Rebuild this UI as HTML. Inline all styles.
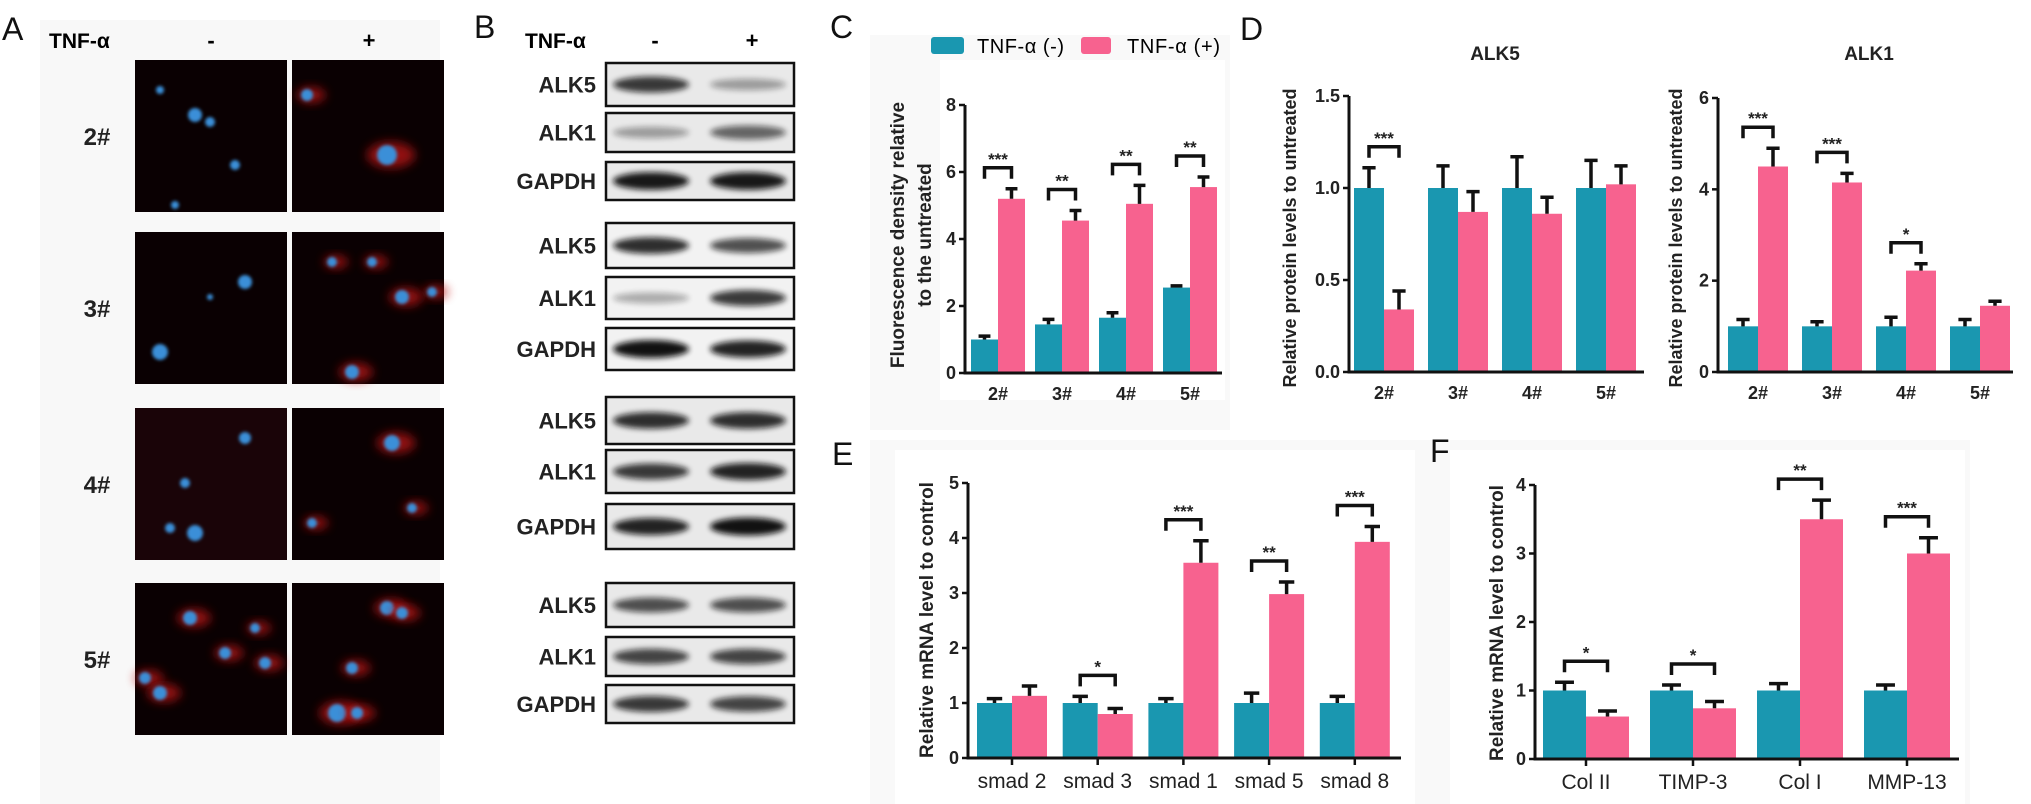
<!DOCTYPE html>
<html><head><meta charset="utf-8">
<style>
html,body{margin:0;padding:0;background:#fff;}
svg{display:block;font-family:"Liberation Sans",sans-serif;}
</style></head>
<body>
<svg id="fig" width="2031" height="804" viewBox="0 0 2031 804" xmlns="http://www.w3.org/2000/svg">
<defs>
<filter id="blur3" x="-50%" y="-50%" width="200%" height="200%"><feGaussianBlur stdDeviation="3"/></filter>
<filter id="blur5" x="-50%" y="-50%" width="200%" height="200%"><feGaussianBlur stdDeviation="5"/></filter>
<filter id="blur2" x="-50%" y="-50%" width="200%" height="200%"><feGaussianBlur stdDeviation="1.5"/></filter>
</defs>
<rect x="0" y="0" width="2031" height="804" fill="#ffffff"/>
<rect x="40" y="20" width="400" height="790" fill="#f8f8f8"/>
<rect x="870" y="35" width="360" height="395" fill="#f9f9f9"/>
<rect x="870" y="440" width="1100" height="370" fill="#f9f9f9"/>
<rect x="895" y="450" width="520" height="360" fill="#ffffff"/>
<rect x="1450" y="450" width="515" height="360" fill="#ffffff"/>
<rect x="940" y="60" width="285" height="340" fill="#ffffff"/>

<!-- Panel labels -->
<g font-size="32" fill="#111">
<text x="2" y="40">A</text>
<text x="474" y="38">B</text>
<text x="830" y="38">C</text>
<text x="1240" y="40">D</text>
<text x="832" y="465">E</text>
<text x="1430" y="462">F</text>
</g>

<!-- Panel A -->
<g font-weight="bold">
<text x="49" y="48" font-size="21">TNF-α</text>
<text x="211" y="48" font-size="22" text-anchor="middle">-</text>
<text x="369" y="48" font-size="22" text-anchor="middle">+</text>
<g id="micro"></g>
</g>

<!-- Panel B -->
<g font-weight="bold">
<text x="525" y="48" font-size="21">TNF-α</text>
<text x="655" y="48" font-size="22" text-anchor="middle">-</text>
<text x="752" y="48" font-size="22" text-anchor="middle">+</text>
<g id="blots"></g>
</g>

<!-- Legend C -->
<g font-size="20">
<rect x="931" y="37" width="33" height="17" rx="3" fill="#1a97b0"/>
<text x="977" y="53" textLength="87">TNF-α (-)</text>
<rect x="1081" y="37" width="30" height="17" rx="3" fill="#f7628f"/>
<text x="1127" y="53" textLength="93">TNF-α (+)</text>
</g>

<g id="charts"></g>
</svg>

<script>
// ===== Chart data =====
const cCats = ['2#','3#','4#','5#'];
const cNeg = [1.0, 1.45, 1.65, 2.55];
const cNegErr = [0.1, 0.15, 0.15, 0.05];
const cPos = [5.2, 4.55, 5.05, 5.55];
const cPosErr = [0.3, 0.3, 0.55, 0.3];
const cSig = ['***','**','**','**'];
const cTicks = [0, 2, 4, 6, 8];

const d5Cats = ['2#','3#','4#','5#'];
const d5Neg = [1.0, 1.0, 1.0, 1.0];
const d5NegErr = [0.11, 0.12, 0.17, 0.15];
const d5Pos = [0.34, 0.87, 0.86, 1.02];
const d5PosErr = [0.1, 0.11, 0.09, 0.1];
const d5Sig = ['***','','',''];
const d5Ticks = [0, 0.5, 1.0, 1.5];

const d1Cats = ['2#','3#','4#','5#'];
const d1Neg = [1.0, 1.0, 1.0, 1.0];
const d1NegErr = [0.15, 0.1, 0.2, 0.15];
const d1Pos = [4.5, 4.15, 2.22, 1.45];
const d1PosErr = [0.4, 0.2, 0.15, 0.1];
const d1Sig = ['***','***','*',''];
const d1Ticks = [0, 2, 4, 6];

const eCats = ['smad 2','smad 3','smad 1','smad 5','smad 8'];
const eNeg = [1.0, 1.0, 1.0, 1.0, 1.0];
const eNegErr = [0.08, 0.12, 0.08, 0.18, 0.12];
const ePos = [1.13, 0.8, 3.55, 2.98, 3.93];
const ePosErr = [0.18, 0.1, 0.4, 0.22, 0.28];
const eSig = ['','*','***','**','***'];
const eTicks = [0, 1, 2, 3, 4, 5];

const fCats = ['Col II','TIMP-3','Col I','MMP-13'];
const fNeg = [1.0, 1.0, 1.0, 1.0];
const fNegErr = [0.12, 0.08, 0.1, 0.08];
const fPos = [0.62, 0.74, 3.5, 3.0];
const fPosErr = [0.08, 0.1, 0.28, 0.23];
const fSig = ['*','*','**','***'];
const fTicks = [0, 1, 2, 3, 4];

const NS = 'http://www.w3.org/2000/svg';
const TEAL = '#1a97b0', PINK = '#f7628f';
function mk(parent, tag, attrs, txt) {
  const e = document.createElementNS(NS, tag);
  for (const k in attrs) e.setAttribute(k, attrs[k]);
  if (txt !== undefined) e.textContent = txt;
  parent.appendChild(e);
  return e;
}

function drawChart(o) {
  const root = document.getElementById('charts');
  const g = mk(root, 'g', {});
  
  
  const maxV = o.ticks[o.ticks.length - 1];
  const yS = v => o.y0 - (o.y0 - o.yMax) * v / maxV;
  const xC = i => o.c0 + o.step * i;
  // bars
  o.cats.forEach((c, i) => {
    const cx = xC(i);
    const series = [[o.neg[i], o.negErr[i], cx - o.bw, TEAL, 'untreated'], [o.pos[i], o.posErr[i], cx, PINK, 'treated']];
    series.forEach(s => {
      const top = yS(s[0]);
      const r = mk(g, 'rect', {x: s[2], y: top, width: o.bw, height: o.y0 - top, fill: s[3]});
      
      
      const et = yS(s[0] + s[1]);
      const bx = s[2] + o.bw / 2;
      const eb = mk(g, 'path', {d: `M${bx},${top} V${et} M${bx - o.bw * 0.22},${et} H${bx + o.bw * 0.22}`, stroke: '#111', 'stroke-width': 3.5, fill: 'none'});
      
      
    });
    if (o.sig[i]) {
      const topY = Math.min(yS(o.neg[i] + o.negErr[i]), yS(o.pos[i] + o.posErr[i]));
      const b = topY - 10, t = b - 11;
      const x1 = cx - o.bw / 2, x2 = cx + o.bw / 2;
      const br = mk(g, 'path', {d: `M${x1},${b} V${t} H${x2} V${b}`, stroke: '#111', 'stroke-width': 3.5, fill: 'none'});
      
      
      const st = mk(g, 'text', {x: cx, y: t - 3, 'text-anchor': 'middle', 'font-size': 17, 'font-weight': 'bold', fill: '#222'}, o.sig[i]);
      
      
    }
    // category
    if (o.xTicks) {
      const tk = mk(g, 'line', {x1: cx, x2: cx, y1: o.y0, y2: o.y0 + 7, stroke: '#111', 'stroke-width': 2.5});
      
      
    }
    const ct = mk(g, 'text', {x: cx, y: o.y0 + o.catDy, 'text-anchor': 'middle', 'font-size': o.catSize, 'font-weight': o.catBold ? 'bold' : 'normal', fill: '#222'}, c);
    
    
  });
  // axes
  const ax = mk(g, 'path', {d: `M${o.x0},${o.yMax} V${o.y0} H${o.x1}`, stroke: '#111', 'stroke-width': 3, fill: 'none'});
  
  
  o.ticks.forEach(v => {
    const y = yS(v);
    const tl = mk(g, 'line', {x1: o.x0 - 6, x2: o.x0, y1: y, y2: y, stroke: '#111', 'stroke-width': 2.5});
    
    
    const tt = mk(g, 'text', {x: o.x0 - 9, y: y + 6, 'text-anchor': 'end', 'font-size': 18, 'font-weight': 'bold', fill: '#222'}, o.fmt ? v.toFixed(1) : String(v));
    
    
  });
  // y label
  o.ylab.forEach((line, k) => {
    const lx = o.ylx[k];
    const yl = mk(g, 'text', {x: 0, y: 0, transform: `translate(${lx},${o.yly}) rotate(-90)`, 'text-anchor': 'middle', 'font-size': o.ylSize, 'font-weight': 'bold', fill: '#222'}, line);
    
    
  });
  if (o.title) {
    const ti = mk(g, 'text', {x: o.title[1], y: o.title[2], 'text-anchor': 'middle', 'font-size': 19, 'font-weight': 'bold', fill: '#222'}, o.title[0]);
    
    
  }
}

drawChart({name:'chart-c-fluorescence', x0:965, x1:1222, y0:373, yMax:105, c0:998, step:64, bw:27,
  cats:cCats, neg:cNeg, negErr:cNegErr, pos:cPos, posErr:cPosErr, sig:cSig, ticks:cTicks,
  catDy:27, catSize:18, catBold:true, xTicks:false,
  ylab:['Fluorescence density relative','to the untreated'], ylx:[904,931], yly:235, ylSize:19});
drawChart({name:'chart-d-alk5', x0:1349, x1:1644, y0:372, yMax:96, c0:1384, step:74, bw:30,
  cats:d5Cats, neg:d5Neg, negErr:d5NegErr, pos:d5Pos, posErr:d5PosErr, sig:d5Sig, ticks:d5Ticks, fmt:true,
  catDy:27, catSize:18, catBold:true, xTicks:false,
  ylab:['Relative protein levels to untreated'], ylx:[1296], yly:238, ylSize:18, title:['ALK5',1495,60]});
drawChart({name:'chart-d-alk1', x0:1718, x1:2013, y0:372, yMax:98, c0:1758, step:74, bw:30,
  cats:d1Cats, neg:d1Neg, negErr:d1NegErr, pos:d1Pos, posErr:d1PosErr, sig:d1Sig, ticks:d1Ticks,
  catDy:27, catSize:18, catBold:true, xTicks:false,
  ylab:['Relative protein levels to untreated'], ylx:[1682], yly:238, ylSize:18, title:['ALK1',1869,60]});
drawChart({name:'chart-e-smad', x0:968, x1:1401, y0:758, yMax:483, c0:1012, step:85.7, bw:35,
  cats:eCats, neg:eNeg, negErr:eNegErr, pos:ePos, posErr:ePosErr, sig:eSig, ticks:eTicks,
  catDy:30, catSize:21, catBold:false, xTicks:true,
  ylab:['Relative mRNA  level to control'], ylx:[933], yly:620, ylSize:19});
drawChart({name:'chart-f-matrix', x0:1535, x1:1959, y0:759, yMax:485, c0:1586, step:107, bw:43,
  cats:fCats, neg:fNeg, negErr:fNegErr, pos:fPos, posErr:fPosErr, sig:fSig, ticks:fTicks,
  catDy:30, catSize:21, catBold:false, xTicks:true,
  ylab:['Relative mRNA  level to control'], ylx:[1503], yly:623, ylSize:19});

// ===== Panel A micrographs =====
const microRows = ['2#','3#','4#','5#'];
const microY = [60, 232, 408, 583];
const micro = document.getElementById('micro');
const cells = [
  [[[25,30,4],[60,55,7],[75,62,5],[100,105,5],[40,145,4]], [[15,35,6,1],[95,95,10,1]]],
  [[[110,50,7],[25,120,8],[75,65,3]], [[40,30,5,1],[80,30,5,1],[110,65,7,1],[140,60,5,1],[60,140,7,1]]],
  [[[110,30,6],[50,75,5],[35,120,5],[60,125,8]], [[100,35,8,1],[20,115,5,1],[120,100,5,1]]],
  [[[55,35,7],[90,70,6],[120,45,5],[130,80,6],[10,95,6],[25,110,7]], [[95,25,7,1],[110,30,6,1],[60,85,6,1],[45,130,9,1],[65,130,6,1]]]
];
microRows.forEach((lab, r) => {
  const y = microY[r];
  const t = mk(micro, 'text', {x: 97, y: y + 85, 'text-anchor': 'middle', 'font-size': 24, 'font-weight': 'bold', fill: '#222'}, lab);
  
  
  [135, 292].forEach((x, c) => {
    const gg = mk(micro, 'g', {});
    
    
    mk(gg, 'rect', {x: x, y: y, width: 152, height: 152, fill: r === 2 && c === 0 ? '#1a0408' : '#0a0002'});
    cells[r][c].forEach(p => {
      const sx = x + p[0], sy = y + p[1];
      if (c === 1 || r === 3) mk(gg, 'ellipse', {cx: sx + 4, cy: sy, rx: p[2] * 2.4, ry: p[2] * 1.3, fill: '#c01818', opacity: 0.75, filter: 'url(#blur5)'});
      mk(gg, 'circle', {cx: sx, cy: sy, r: p[2], fill: '#3a8fd8', filter: 'url(#blur2)'});
    });
  });
});

// ===== Panel B blots =====
const blotNames = ['ALK5','ALK1','GAPDH'];
const blotGroupsY = [[63,113,162],[223,277,328],[397,450,504],[583,637,685]];
const blotH = [[43,39,38],[45,42,42],[47,43,45],[44,39,38]];
const bandL = [[0.8,0.35,0.95],[0.85,0.3,0.98],[0.85,0.8,0.9],[0.7,0.75,0.8]];
const bandR = [[0.35,0.6,0.95],[0.7,0.8,0.9],[0.85,0.9,0.98],[0.7,0.75,0.75]];
const blots = document.getElementById('blots');
blotGroupsY.forEach((ys, gi) => {
  ys.forEach((y, k) => {
    const h = blotH[gi][k];
    const gg = mk(blots, 'g', {});
    
    
    mk(gg, 'rect', {x: 606, y: y, width: 188, height: h, fill: gi === 1 ? '#f2f2f2' : '#e9e9e9', stroke: '#111', 'stroke-width': 2.5});
    const a = bandL[gi][k], b = bandR[gi][k];
    mk(gg, 'ellipse', {cx: 651, cy: y + h / 2, rx: 38, ry: 4 + 5 * a, fill: '#111', opacity: a, filter: 'url(#blur3)'});
    mk(gg, 'ellipse', {cx: 748, cy: y + h / 2, rx: 38, ry: 4 + 5 * b, fill: '#111', opacity: b, filter: 'url(#blur3)'});
    const t = mk(blots, 'text', {x: 596, y: y + h / 2 + 8, 'text-anchor': 'end', 'font-size': 22, fill: '#222'}, blotNames[k]);
    
    
  });
});
</script>
</body></html>
